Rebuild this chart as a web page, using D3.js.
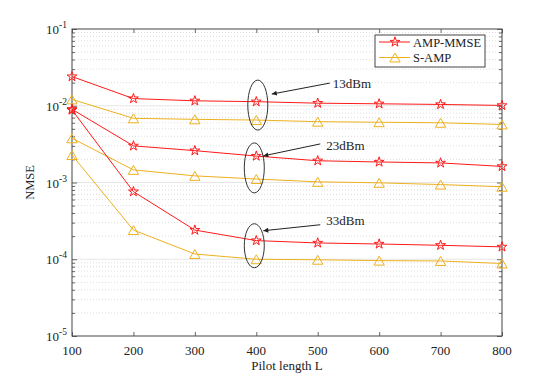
<!DOCTYPE html>
<html><head><meta charset="utf-8">
<script src="https://cdn.jsdelivr.net/npm/d3@7"></script>
<style>body{margin:0;background:#fff}svg{display:block}text{font-family:"Liberation Serif","DejaVu Serif",serif;fill:#222}</style>
</head><body><svg id="c" width="554" height="378"></svg>
<script>
const pilotLengths = [100,200,300,400,500,600,700,800];
const amp13 = [0.0240,0.0124,0.0116,0.0113,0.0108,0.0106,0.0104,0.0101];
const samp13 = [0.0121,0.00686,0.00665,0.00651,0.0062,0.0061,0.0060,0.0057];
const amp23 = [0.0090,0.0030,0.0026,0.00221,0.00192,0.00185,0.00180,0.00162];
const samp23 = [0.00377,0.00146,0.00122,0.00111,0.00102,0.00099,0.00094,0.00088];
const amp33 = [0.0088,0.00076,0.00024,0.000175,0.000163,0.000158,0.000152,0.000145];
const samp33 = [0.00228,0.00024,0.000117,0.000100,0.0000985,0.000096,0.000095,0.000088];
const xTicks = [100,200,300,400,500,600,700,800];
const yTickExps = [-1,-2,-3,-4,-5];
const legendLabels = ["AMP-MMSE","S-AMP"];
const annotLabels = ["13dBm","23dBm","33dBm"];
const annotL = [400,400,400];
const annotCenter = [0.0102,0.00155,0.000150];

const RED="#ff1a1a", YEL="#EDB120";
const svg=d3.select("#c");
const m={l:72,r:502,t:29,b:336};
const x=d3.scaleLinear().domain([100,800]).range([m.l,m.r]);
const y=d3.scaleLog().domain([1e-5,1e-1]).range([m.b,m.t]);

// grid
const minor=[];
for(let e=-5;e<-1;e++) for(let k=2;k<=9;k++) minor.push(k*Math.pow(10,e));
svg.append("g").selectAll("line").data(minor).join("line")
  .attr("x1",m.l).attr("x2",m.r).attr("y1",d=>y(d)).attr("y2",d=>y(d))
  .attr("stroke","#d0d0d0").attr("stroke-width",0.7).attr("stroke-dasharray","1,2");
svg.append("g").selectAll("line").data([1e-2,1e-3,1e-4]).join("line")
  .attr("x1",m.l).attr("x2",m.r).attr("y1",d=>y(d)).attr("y2",d=>y(d))
  .attr("stroke","#e6e6e6").attr("stroke-width",1.2);

// axes
const tickFmt=()=>"";
svg.append("g").attr("transform",`translate(0,${m.b})`).call(d3.axisBottom(x).tickValues(xTicks).tickSizeInner(-4).tickSizeOuter(0).tickFormat(tickFmt));
svg.append("g").attr("transform",`translate(0,${m.t})`).call(d3.axisTop(x).tickValues(xTicks).tickSizeInner(-4).tickSizeOuter(0).tickFormat(tickFmt));
const majors=[1e-1,1e-2,1e-3,1e-4,1e-5];
const allY=minor.concat(majors);
const ax1=svg.append("g").attr("transform",`translate(${m.l},0)`).call(d3.axisLeft(y).tickValues(allY).tickSizeInner(-3).tickSizeOuter(0).tickFormat(tickFmt));
const ax2=svg.append("g").attr("transform",`translate(${m.r},0)`).call(d3.axisRight(y).tickValues(allY).tickSizeInner(-3).tickSizeOuter(0).tickFormat(tickFmt));
ax1.selectAll(".tick line").filter(d=>majors.includes(d)).attr("x2",5);
ax2.selectAll(".tick line").filter(d=>majors.includes(d)).attr("x2",-5);
svg.selectAll(".domain").remove();
svg.selectAll(".tick line").attr("stroke","#444").attr("stroke-width",0.8);
svg.append("rect").attr("x",m.l).attr("y",m.t).attr("width",m.r-m.l).attr("height",m.b-m.t)
  .attr("fill","none").attr("stroke","#444").attr("stroke-width",1);

// tick labels
svg.append("g").selectAll("text").data(xTicks).join("text")
  .attr("x",d=>x(d)).attr("y",m.b+19).attr("text-anchor","middle").attr("font-size",13).text(d=>d);
const yl=svg.append("g").selectAll("text").data(yTickExps).join("text")
  .attr("x",m.l-5).attr("y",d=>y(Math.pow(10,d))+5).attr("text-anchor","end").attr("font-size",13);
yl.append("tspan").text("10");
yl.append("tspan").attr("dy",-6).attr("font-size",9.5).text(d=>d);
svg.append("text").attr("x",(m.l+m.r)/2).attr("y",m.b+34).attr("text-anchor","middle").attr("font-size",13).text("Pilot length L");
svg.append("text").attr("transform",`translate(34,${(m.t+m.b)/2}) rotate(-90)`).attr("text-anchor","middle").attr("font-size",12.5).text("NMSE");

// series
const line=d3.line().x((d,i)=>x(pilotLengths[i])).y(d=>y(d));
const star=d3.symbol().type(d3.symbolStar).size(30);
const tri=d3.symbol().type(d3.symbolTriangle).size(46);
function series(vals,color,sym){
  svg.append("path").attr("d",line(vals)).attr("fill","none").attr("stroke",color).attr("stroke-width",1);
  svg.append("g").selectAll("path").data(vals).join("path")
    .attr("d",sym).attr("transform",(d,i)=>`translate(${x(pilotLengths[i])},${y(d)+(sym===tri?1.5:0)})`)
    .attr("fill","none").attr("stroke",color).attr("stroke-width",1);
}
series(samp13,YEL,tri);series(samp23,YEL,tri);series(samp33,YEL,tri);
series(amp13,RED,star);series(amp23,RED,star);series(amp33,RED,star);

// annotations
svg.append("defs").append("marker").attr("id","ah").attr("viewBox","0 0 10 10").attr("refX",10).attr("refY",5)
  .attr("markerWidth",10).attr("markerHeight",5).attr("orient","auto").attr("markerUnits","userSpaceOnUse")
  .append("path").attr("d","M0,0L10,5L0,10Z").attr("fill","#222");
const ellRy=[25,25,22];
const ellDx=[1.5,-2,-2];
const tailOff=[[72,-22],[66,-24],[66,-21]];
const tipOff=[[14,-11],[9,-12],[9,-15]];
const textOff=[[75,-17],[72,-18],[72,-21]];
annotLabels.forEach((lab,i)=>{
  const cx=x(annotL[i])+ellDx[i], cy=y(annotCenter[i]);
  svg.append("ellipse").attr("cx",cx).attr("cy",cy).attr("rx",10).attr("ry",ellRy[i])
    .attr("fill","none").attr("stroke","#333").attr("stroke-width",1);
  svg.append("line").attr("x1",cx+tailOff[i][0]).attr("y1",cy+tailOff[i][1]).attr("x2",cx+tipOff[i][0]).attr("y2",cy+tipOff[i][1])
    .attr("stroke","#222").attr("stroke-width",1).attr("marker-end","url(#ah)");
  svg.append("text").attr("x",cx+textOff[i][0]).attr("y",cy+textOff[i][1]).attr("font-size",13).text(lab);
});

// legend
const lg=svg.append("g");
lg.append("rect").attr("x",375).attr("y",35).attr("width",110).attr("height",32).attr("fill","#fff").attr("stroke","#444");
[[RED,star,0],[YEL,tri,1.5]].forEach((s,i)=>{
  const yy=42+i*15.5;
  lg.append("line").attr("x1",379).attr("x2",410).attr("y1",yy).attr("y2",yy).attr("stroke",s[0]);
  lg.append("path").attr("d",s[1]).attr("transform",`translate(395,${yy+s[2]})`).attr("fill","none").attr("stroke",s[0]);
  lg.append("text").attr("x",413).attr("y",yy+4.5).attr("font-size",12.5).text(legendLabels[i]);
});
</script></body></html>
